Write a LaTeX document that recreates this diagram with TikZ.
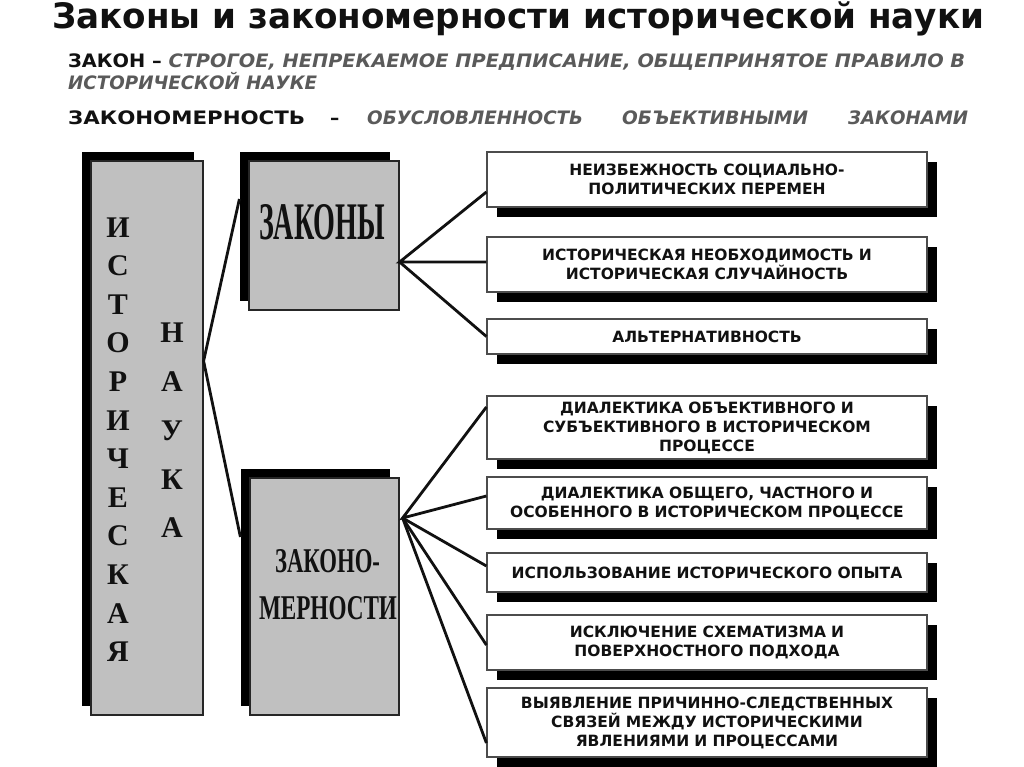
\documentclass[tikz,border=0pt]{standalone}
\usepackage{fontspec}
\setmainfont{Liberation Serif}
\newfontfamily\vfont{DejaVu Sans}
\usetikzlibrary{shadows}
\definecolor{boxgray}{HTML}{C0C0C0}
\definecolor{subgray}{HTML}{5A5A5A}
\definecolor{ink}{HTML}{111111}
\tikzset{
  graybox/.style={draw=black!85, line width=1.2pt, fill=boxgray, inner sep=0pt,
    drop shadow={shadow xshift=-9pt, shadow yshift=9pt, fill=black, opacity=1}},
  whitebox/.style={draw=black!70, line width=1.2pt, fill=white, inner sep=0pt,
    minimum width=440pt, text width=436pt, align=center, text=ink,
    font=\vfont\bfseries\fontsize{15.5}{19}\selectfont,
    drop shadow={shadow xshift=10pt, shadow yshift=-10pt, fill=black, opacity=1}},
  conn/.style={line width=2.8pt, draw=ink},
  subtxt/.style={inner sep=0pt, anchor=base west, text=ink, font=\vfont\bfseries\fontsize{18.5}{22}\selectfont},
  vletters/.style={inner sep=0pt, align=center, text=ink},
  bigtxt/.style={inner sep=0pt, text=ink, font=\bfseries\fontsize{40}{40}\selectfont}
}
\begin{document}
\begin{tikzpicture}[x=1pt,y=-1pt]
\useasboundingbox[fill=white] (0,0) rectangle (1024,767);

% title and definitions
\node[inner sep=0pt, anchor=base west, text=ink, font=\vfont\bfseries\fontsize{35}{38}\selectfont] (title) at (52,29)
  {\resizebox{932pt}{\height}{Законы и закономерности исторической науки}};
\node[subtxt] (sub1) at (68,68)
  {\resizebox{897pt}{\height}{ЗАКОН – \textcolor{subgray}{\itshape СТРОГОЕ, НЕПРЕКАЕМОЕ ПРЕДПИСАНИЕ, ОБЩЕПРИНЯТОЕ ПРАВИЛО В}}};
\node[subtxt, text=subgray] (sub2) at (68,90)
  {\resizebox{249pt}{\height}{\itshape ИСТОРИЧЕСКОЙ НАУКЕ}};
\node[subtxt] (sub3a) at (68,125) {\resizebox{237pt}{\height}{ЗАКОНОМЕРНОСТЬ}};
\node[subtxt] (sub3b) at (330,125) {–};
\node[subtxt, text=subgray] (sub3c) at (367,125) {\resizebox{216pt}{\height}{\itshape ОБУСЛОВЛЕННОСТЬ}};
\node[subtxt, text=subgray] (sub3d) at (622,125) {\resizebox{186pt}{\height}{\itshape ОБЪЕКТИВНЫМИ}};
\node[subtxt, text=subgray] (sub3e) at (848,125) {\resizebox{120pt}{\height}{\itshape ЗАКОНАМИ}};

% left column boxes
\node[graybox, minimum width=112pt, minimum height=554pt] (hist) at (147,438) {};
\node[vletters, font=\bfseries\fontsize{30}{38.6}\selectfont] (histtxt) at (118,439.5)
  {И\\С\\Т\\О\\Р\\И\\Ч\\Е\\С\\К\\А\\Я};
\node[vletters, font=\bfseries\fontsize{30}{48.75}\selectfont] (naukatxt) at (172,430.5)
  {Н\\А\\У\\К\\А};

\node[graybox, minimum width=150pt, minimum height=149pt] (zak) at (324,235.5) {};
\node[bigtxt] (zaktxt) at (322,222.5) {\resizebox{126pt}{35pt}{ЗАКОНЫ}};

\node[graybox, minimum width=149pt, minimum height=237pt] (zkm) at (324.5,596.5) {};
\node[bigtxt] (zkmtxt1) at (327.5,561.5) {\resizebox{105pt}{23pt}{ЗАКОНО-}};
\node[bigtxt] (zkmtxt2) at (328,608.5) {\resizebox{138pt}{23pt}{МЕРНОСТИ}};

% right boxes
\node[whitebox, minimum height=55pt] (b1) at (707,179.5) {НЕИЗБЕЖНОСТЬ СОЦИАЛЬНО-\\ПОЛИТИЧЕСКИХ ПЕРЕМЕН};
\node[whitebox, minimum height=55pt] (b2) at (707,264.5) {ИСТОРИЧЕСКАЯ НЕОБХОДИМОСТЬ И\\ИСТОРИЧЕСКАЯ СЛУЧАЙНОСТЬ};
\node[whitebox, minimum height=35pt] (b3) at (707,336.5) {АЛЬТЕРНАТИВНОСТЬ};
\node[whitebox, minimum height=63pt] (b4) at (707,427.5) {ДИАЛЕКТИКА ОБЪЕКТИВНОГО И\\СУБЪЕКТИВНОГО В ИСТОРИЧЕСКОМ\\ПРОЦЕССЕ};
\node[whitebox, minimum height=52pt] (b5) at (707,503) {ДИАЛЕКТИКА ОБЩЕГО, ЧАСТНОГО И\\ОСОБЕННОГО В ИСТОРИЧЕСКОМ ПРОЦЕССЕ};
\node[whitebox, minimum height=39pt] (b6) at (707,572.5) {ИСПОЛЬЗОВАНИЕ ИСТОРИЧЕСКОГО ОПЫТА};
\node[whitebox, minimum height=55pt] (b7) at (707,642.5) {ИСКЛЮЧЕНИЕ СХЕМАТИЗМА И\\ПОВЕРХНОСТНОГО ПОДХОДА};
\node[whitebox, minimum height=69pt] (b8) at (707,722.5) {ВЫЯВЛЕНИЕ ПРИЧИННО-СЛЕДСТВЕННЫХ\\СВЯЗЕЙ МЕЖДУ ИСТОРИЧЕСКИМИ\\ЯВЛЕНИЯМИ И ПРОЦЕССАМИ};

% connectors
\draw[conn] ([xshift=-9pt,yshift=36.5pt]zak.west) -- ([yshift=77pt]hist.east) -- ([xshift=-9pt,yshift=59.5pt]zkm.west);

\draw[conn] ([yshift=-12.5pt]b1.west) -- ([yshift=-26.5pt]zak.east) -- ([yshift=2.5pt]b2.west);
\draw[conn] ([yshift=-26.5pt]zak.east) -- (b3.west);

\draw[conn] ([yshift=20.5pt]b4.west) -- ([xshift=3pt,yshift=78.5pt]zkm.east) -- ([yshift=7pt]b5.west);
\draw[conn] ([xshift=3pt,yshift=78.5pt]zkm.east) -- ([yshift=6.5pt]b6.west);
\draw[conn] ([xshift=3pt,yshift=78.5pt]zkm.east) -- ([yshift=-2.5pt]b7.west);
\draw[conn] ([xshift=3pt,yshift=78.5pt]zkm.east) -- ([yshift=-20.5pt]b8.west);
\end{tikzpicture}
\end{document}
